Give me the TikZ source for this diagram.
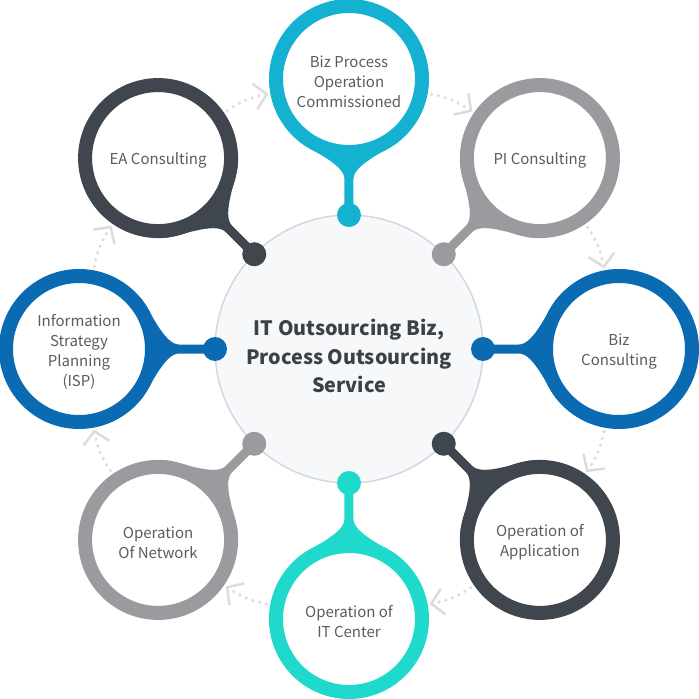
\documentclass[tikz,border=0pt]{standalone}
\usepackage{fontspec}
\setmainfont{Noto Sans CJK KR}
\usetikzlibrary{arrows.meta}
\definecolor{cyanring}{HTML}{14B1D0}
\definecolor{tealring}{HTML}{1ED9CC}
\definecolor{bluering}{HTML}{0A6BB2}
\definecolor{darkring}{HTML}{3F464D}
\definecolor{grayring}{HTML}{9A9B9E}
\definecolor{labelgray}{HTML}{5B5C5E}
\definecolor{hubtext}{HTML}{3B4148}
\definecolor{hubfill}{HTML}{F7F8F9}
\definecolor{hubline}{HTML}{D2D8E3}
\definecolor{flowgray}{HTML}{DCDCDC}
\tikzset{
    ring/.style={circle, draw=#1, line width=14pt, minimum size=146pt,
        inner sep=0pt, fill=white},
    ringtext/.style={align=center, text=labelgray, inner sep=0pt,
        font=\fontsize{15}{20}\selectfont},
    hub/.style={circle, draw=hubline, line width=1.5pt, fill=hubfill,
        minimum size=268pt, inner sep=0pt},
    hubtext/.style={align=center, text=hubtext, inner sep=0pt,
        font=\bfseries\fontsize{19.8}{28.5}\selectfont},
    flow/.style={draw=flowgray, line width=3.5pt, line cap=round,
        dash pattern=on 0pt off 7pt,
        -{Straight Barb[length=12pt,width=26pt,line width=2.5pt]},
        shorten <=4pt, shorten >=2pt},
}
\begin{document}
\begin{tikzpicture}[x=1pt,y=1pt]
    \useasboundingbox (-349,-350) rectangle (350,349);
    % centre
    \node[hub] (hub) at (0,0) {};
    \node[hubtext] (title) at ([yshift=-7]hub.center) {IT Outsourcing Biz,\\Process Outsourcing\\Service};
    % stems and dots
    \foreach \a/\c in {90/cyanring,45/grayring,0/bluering,-45/darkring,
            -90/tealring,-135/grayring,180/bluering,135/darkring}{
        \begin{scope}[rotate=\a]
            \fill[\c] (208.7,51.4) .. controls (199,39.5) and (185,4.5) .. (170,4.5)
                -- (134,4.5) -- (134,-4.5) -- (170,-4.5)
                .. controls (185,-4.5) and (199,-39.5) .. (208.7,-51.4)
                -- (270,0) -- cycle;
            \fill[\c] (134,0) circle (12);
        \end{scope}
    }
    % rings
    \foreach \a/\c/\n/\t in {90/cyanring/bp/{Biz Process\\Operation\\Commissioned},
            45/grayring/pi/{PI Consulting},
            0/bluering/bc/{Biz\\Consulting},
            -45/darkring/oa/{Operation of\\Application},
            -90/tealring/ic/{Operation of\\IT Center},
            -135/grayring/on/{Operation\\Of Network},
            180/bluering/isp/{Information\\Strategy\\Planning\\(ISP)},
            135/darkring/ea/{EA Consulting}}{
        \node[ring=\c] (\n) at (\a:270) {};
        \node[ringtext] (\n-text) at ([yshift=-2.5]\n.center) {\t};
    }
    % flow arrows
    \foreach \s/\e in {ea/bp,bp/pi,pi/bc,bc/oa,oa/ic,ic/on,on/isp,isp/ea}{
        \draw[flow] (\s) to[bend left=12] (\e);
    }
\end{tikzpicture}
\end{document}
